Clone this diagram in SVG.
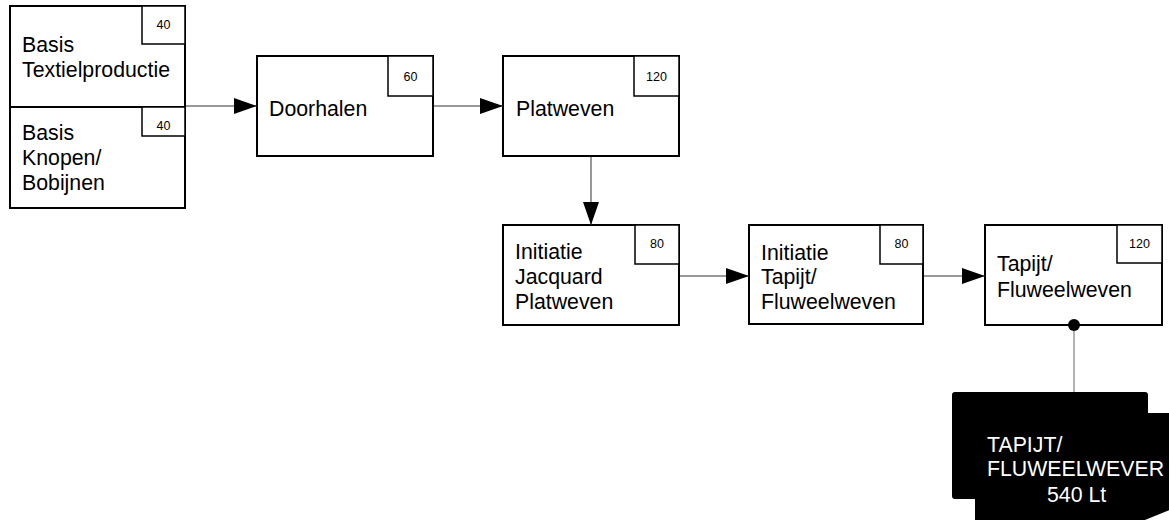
<svg xmlns="http://www.w3.org/2000/svg" width="1169" height="520" viewBox="0 0 1169 520">
<style>
.box{fill:#fff;stroke:#000;stroke-width:2}
.num{fill:#fff;stroke:#000;stroke-width:1.5}
.t{font-family:"Liberation Sans",Arial,sans-serif;font-size:21.3px;fill:#000}
.n{font-family:"Liberation Sans",Arial,sans-serif;font-size:12.5px;fill:#000;text-anchor:middle}
.w{font-family:"Liberation Sans",Arial,sans-serif;font-size:21.3px;fill:#fff}
.c{stroke:#333;stroke-width:1;fill:none}
</style>
<defs>
<marker id="arr" markerUnits="userSpaceOnUse" markerWidth="23" markerHeight="18" refX="23" refY="8" orient="auto">
<path d="M0,0 L23,8 L0,16 Z" fill="#000"/>
</marker>
</defs>
<rect width="1169" height="520" fill="#fff"/>
<g id="basis-textiel">
<rect class="box" x="10" y="6" width="175" height="101"/>
<rect class="num" x="142" y="6" width="43" height="38"/>
<text class="n" x="163.5" y="29">40</text>
<text class="t" x="22" y="52">Basis</text>
<text class="t" x="22" y="77">Textielproductie</text>
</g>
<g id="basis-knopen">
<rect class="box" x="10" y="107" width="175" height="101"/>
<rect class="num" x="142" y="107" width="43" height="29"/>
<text class="n" x="163.5" y="130">40</text>
<text class="t" x="22" y="140">Basis</text>
<text class="t" x="22" y="165">Knopen/</text>
<text class="t" x="22" y="190">Bobijnen</text>
</g>
<g id="doorhalen">
<rect class="box" x="257" y="56" width="176" height="100"/>
<rect class="num" x="388" y="56" width="45" height="40"/>
<text class="n" x="410.5" y="81">60</text>
<text class="t" x="269" y="116">Doorhalen</text>
</g>
<g id="platweven">
<rect class="box" x="503" y="56" width="176" height="100"/>
<rect class="num" x="634" y="56" width="45" height="40"/>
<text class="n" x="656.5" y="81">120</text>
<text class="t" x="516" y="116">Platweven</text>
</g>
<g id="initiatie-jacquard">
<rect class="box" x="503" y="225" width="176" height="100"/>
<rect class="num" x="635" y="225" width="44" height="39"/>
<text class="n" x="657" y="248">80</text>
<text class="t" x="515" y="259">Initiatie</text>
<text class="t" x="515" y="284">Jacquard</text>
<text class="t" x="515" y="309">Platweven</text>
</g>
<g id="initiatie-tapijt">
<rect class="box" x="749" y="225" width="174" height="99"/>
<rect class="num" x="880" y="225" width="43" height="39"/>
<text class="n" x="901.5" y="248">80</text>
<text class="t" x="761" y="260">Initiatie</text>
<text class="t" x="761" y="284">Tapijt/</text>
<text class="t" x="761" y="309">Fluweelweven</text>
</g>
<g id="tapijt-fluweelweven">
<rect class="box" x="985" y="225" width="177" height="100"/>
<rect class="num" x="1117" y="225" width="45" height="38"/>
<text class="n" x="1139.5" y="248">120</text>
<text class="t" x="997" y="271">Tapijt/</text>
<text class="t" x="997" y="297">Fluweelweven</text>
</g>
<g id="tapijt-fluweelwever">
<path d="M955,392 L1145,392 Q1148,392 1148,395 L1148,413 L1172,413 L1172,509 L1140,522 L975,522 L975,499 L955,499 Q952,499 952,496 L952,395 Q952,392 955,392 Z" fill="#000"/>
<text class="w" x="987" y="452">TAPIJT/</text>
<text class="w" x="987" y="476">FLUWEELWEVER</text>
<text class="w" x="1047" y="502">540 Lt</text>
</g>
<g id="connectors">
<line class="c" x1="186" y1="106" x2="257" y2="106" marker-end="url(#arr)"/>
<line class="c" x1="434" y1="106" x2="503" y2="106" marker-end="url(#arr)"/>
<line class="c" x1="591" y1="157" x2="591" y2="225" marker-end="url(#arr)"/>
<line class="c" x1="680" y1="276" x2="749" y2="276" marker-end="url(#arr)"/>
<line class="c" x1="924" y1="276" x2="985" y2="276" marker-end="url(#arr)"/>
<line x1="1074" y1="330" x2="1074" y2="392" stroke="#999" stroke-width="1.5"/>
<circle cx="1074" cy="325" r="6" fill="#000"/>
</g>
</svg>
